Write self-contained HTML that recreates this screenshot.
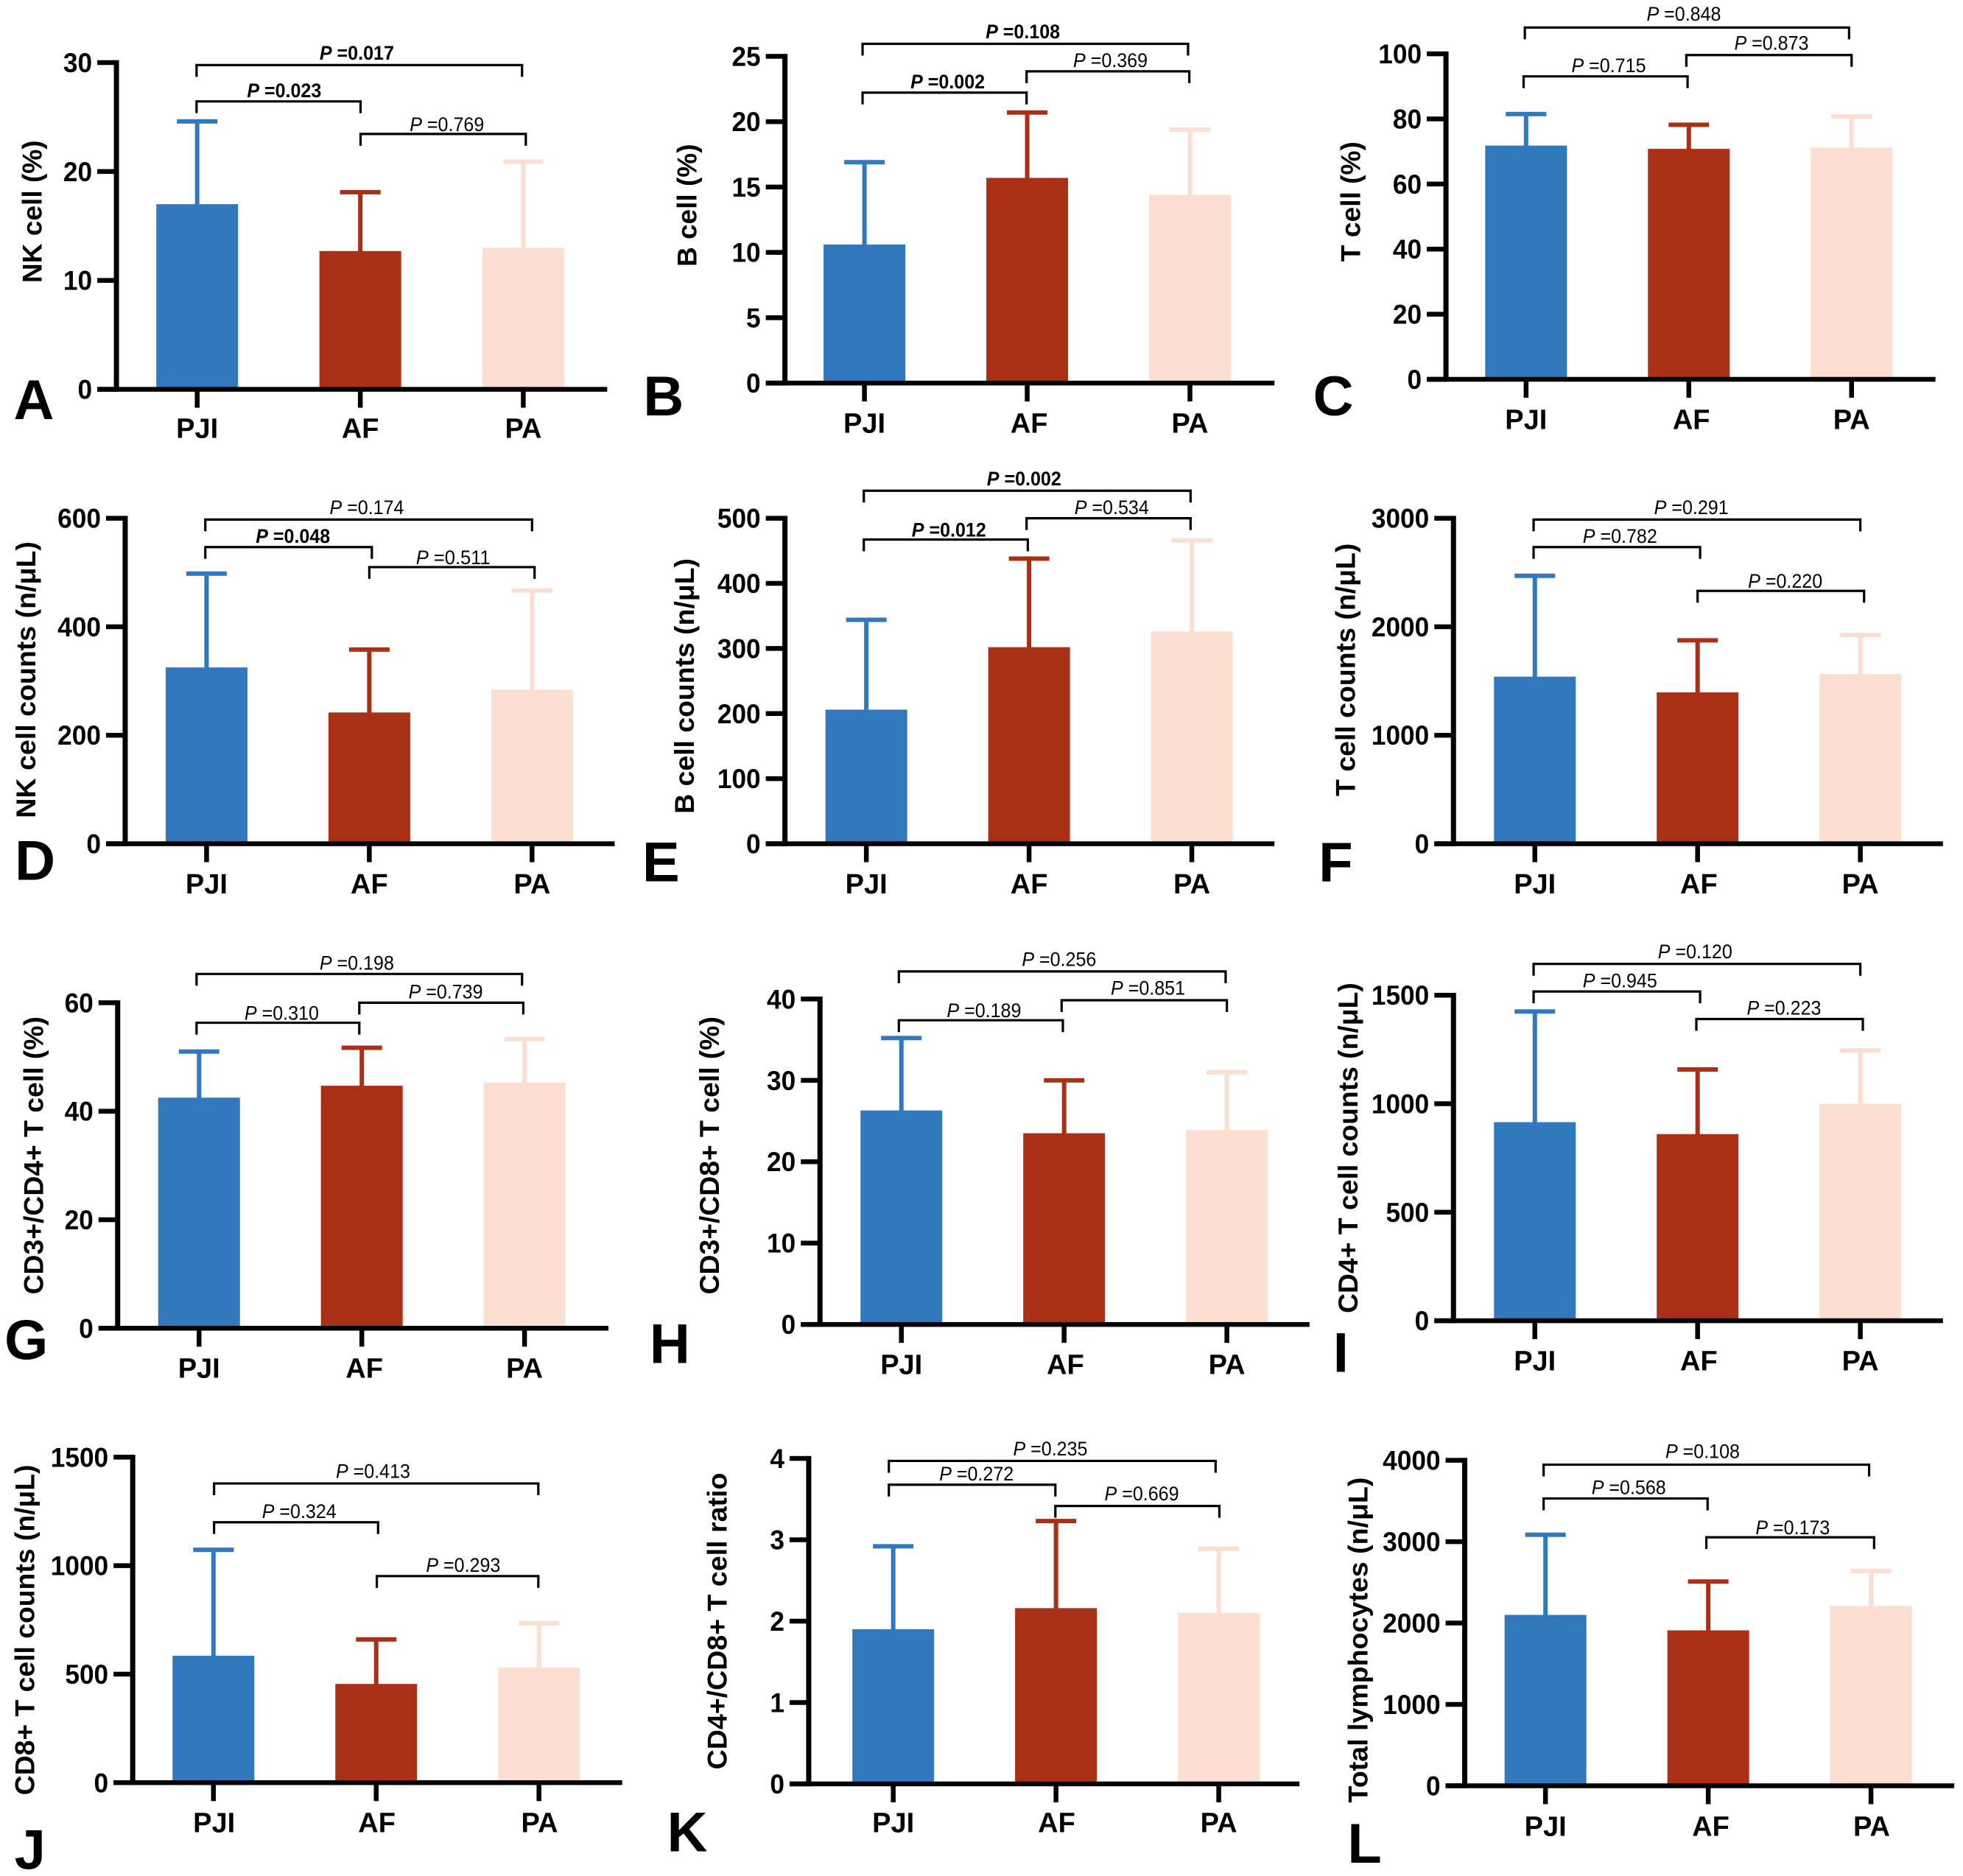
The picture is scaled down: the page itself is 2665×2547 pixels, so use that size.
<!DOCTYPE html>
<html lang="en">
<head>
<meta charset="utf-8">
<title>Lymphocyte subsets by group</title>
<style>
html,body{margin:0;padding:0;background:#fff;}
svg{display:block;}
text{font-family:"Liberation Sans",sans-serif;fill:#000;}
</style>
</head>
<body>
<svg id="chart" xmlns="http://www.w3.org/2000/svg" width="2665" height="2547" viewBox="0 0 2665 2547"></svg>
<script>
const categories = ['PJI', 'AF', 'PA'];

const nkPctMeans = [17, 12.7, 13];
const nkPctUpper = [24.6, 18.1, 20.9];
const nkPctTicks = [0, 10, 20, 30];
const nkPctP = ['0.023', '0.017', '0.769'];

const bPctMeans = [10.6, 15.7, 14.4];
const bPctUpper = [16.9, 20.7, 19.4];
const bPctTicks = [0, 5, 10, 15, 20, 25];
const bPctP = ['0.002', '0.108', '0.369'];

const tPctMeans = [71.8, 70.8, 71.2];
const tPctUpper = [81.5, 78.2, 80.8];
const tPctTicks = [0, 20, 40, 60, 80, 100];
const tPctP = ['0.715', '0.848', '0.873'];

const nkCountMeans = [325, 242, 284];
const nkCountUpper = [498, 358, 467];
const nkCountTicks = [0, 200, 400, 600];
const nkCountP = ['0.048', '0.174', '0.511'];

const bCountMeans = [206, 302, 326];
const bCountUpper = [344, 438, 466];
const bCountTicks = [0, 100, 200, 300, 400, 500];
const bCountP = ['0.012', '0.002', '0.534'];

const tCountMeans = [1540, 1395, 1565];
const tCountUpper = [2470, 1875, 1925];
const tCountTicks = [0, 1000, 2000, 3000];
const tCountP = ['0.782', '0.291', '0.220'];

const cd4PctMeans = [42.5, 44.7, 45.3];
const cd4PctUpper = [51, 51.7, 53.3];
const cd4PctTicks = [0, 20, 40, 60];
const cd4PctP = ['0.310', '0.198', '0.739'];

const cd8PctMeans = [26.3, 23.5, 23.9];
const cd8PctUpper = [35.2, 30, 31];
const cd8PctTicks = [0, 10, 20, 30, 40];
const cd8PctP = ['0.189', '0.256', '0.851'];

const cd4CountMeans = [915, 860, 1000];
const cd4CountUpper = [1425, 1158, 1245];
const cd4CountTicks = [0, 500, 1000, 1500];
const cd4CountP = ['0.945', '0.120', '0.223'];

const cd8CountMeans = [585, 455, 530];
const cd8CountUpper = [1073, 660, 735];
const cd8CountTicks = [0, 500, 1000, 1500];
const cd8CountP = ['0.324', '0.413', '0.293'];

const ratioMeans = [1.9, 2.16, 2.1];
const ratioUpper = [2.92, 3.23, 2.89];
const ratioTicks = [0, 1, 2, 3, 4];
const ratioP = ['0.272', '0.235', '0.669'];

const totalMeans = [2100, 1910, 2210];
const totalUpper = [3085, 2510, 2640];
const totalTicks = [0, 1000, 2000, 3000, 4000];
const totalP = ['0.568', '0.108', '0.173'];

/* Layout is in units of a 1568-wide sheet and is scaled to the page below. */
const S = 2665 / 1568;
const colors = ['#3178bd', '#a93015', '#fcdfd0'];
const NS = 'http://www.w3.org/2000/svg';
const svg = document.getElementById('chart');

const panels = [
  {id:'a', letter:'A', lx:27, ly:319, title:'NK cell (%)', tx:26, ty:169, tl:114, means:nkPctMeans, upper:nkPctUpper, ticks:nkPctTicks, p:nkPctP, bold:[1,1,0],
   ax:93, y0:311, top:50, end:485, cx:[157.5,287.8,418], catDx:[0,0,0], catY:342,
   br:[[157,288,81,227,72],[157,417,52,285,42],[288,420,107,357,99]]},
  {id:'b', letter:'B', lx:530, ly:316, title:'B cell (%)', tx:549, ty:164, tl:98, means:bPctMeans, upper:bPctUpper, ticks:bPctTicks, p:bPctP, bold:[1,1,0],
   ax:627, y0:306, top:45, end:1018, cx:[690.5,820.5,950.5], catDx:[0,1.5,0], catY:338,
   br:[[689,820,74,757,65],[689,949,35,817,25],[820,950,57,887,48]]},
  {id:'c', letter:'C', lx:1065, ly:316, title:'T cell (%)', tx:1079, ty:161, tl:96, means:tPctMeans, upper:tPctUpper, ticks:tPctTicks, p:tPctP, bold:[0,0,0],
   ax:1155, y0:303, top:43, end:1546, cx:[1219,1349,1479], catDx:[0,2,0], catY:335,
   br:[[1217,1348,61,1285,52],[1218,1477,22,1345,11],[1347,1479,44,1415,34]]},
  {id:'d', letter:'D', lx:28, ly:687, title:'NK cell counts (n/μL)', tx:21, ty:543, tl:221, means:nkCountMeans, upper:nkCountUpper, ticks:nkCountTicks, p:nkCountP, bold:[1,0,0],
   ax:100, y0:674, top:414, end:491, cx:[165,295,425], catDx:[0,0,0], catY:706,
   br:[[164,297,437,234,428],[164,425,415,293,405],[295,427,453,362,445]]},
  {id:'e', letter:'E', lx:528, ly:688, title:'B cell counts (n/μL)', tx:547, ty:548, tl:204, means:bCountMeans, upper:bCountUpper, ticks:bCountTicks, p:bCountP, bold:[1,1,0],
   ax:627, y0:674, top:414, end:1018, cx:[692,822,952], catDx:[0,0,0], catY:706,
   br:[[690,821,431,758,423],[690,951,392,818,382],[820,951,414,888,405]]},
  {id:'f', letter:'F', lx:1067, ly:688, title:'T cell counts (n/μL)', tx:1075, ty:535, tl:202, means:tCountMeans, upper:tCountUpper, ticks:tCountTicks, p:tCountP, bold:[0,0,0],
   ax:1161, y0:674, top:414, end:1552, cx:[1226,1356,1486], catDx:[0,1,0], catY:706,
   br:[[1225,1358,437,1294,428],[1225,1486,415,1351,405],[1356,1489,472,1426,464]]},
  {id:'g', letter:'G', lx:21, ly:1070, title:'CD3+/CD4+ T cell (%)', tx:27, ty:923, tl:222, means:cd4PctMeans, upper:cd4PctUpper, ticks:cd4PctTicks, p:cd4PctP, bold:[0,0,0],
   ax:94, y0:1061, top:801, end:486, cx:[159,289,419], catDx:[0,2,0], catY:1093,
   br:[[157,287,817,225,809],[157,417,778,285,769],[287,418,801,356,792]]},
  {id:'h', letter:'H', lx:535, ly:1073, title:'CD3+/CD8+ T cell (%)', tx:567, ty:923, tl:222, means:cd8PctMeans, upper:cd8PctUpper, ticks:cd8PctTicks, p:cd8PctP, bold:[0,0,0],
   ax:655, y0:1058, top:798, end:1046, cx:[720,850,980], catDx:[0,1,0], catY:1090,
   br:[[718,849,815,786,807],[718,979,776,846,766],[848,980,799,917,789]]},
  {id:'i', letter:'I', lx:1071, ly:1080, title:'CD4+ T cell counts (n/μL)', tx:1077, ty:917, tl:264, means:cd4CountMeans, upper:cd4CountUpper, ticks:cd4CountTicks, p:cd4CountP, bold:[0,0,0],
   ax:1161, y0:1055, top:795, end:1552, cx:[1226,1356,1486], catDx:[0,1,0], catY:1087,
   br:[[1225,1358,792,1294,783],[1225,1486,770,1354,760],[1355,1488,814,1425,805]]},
  {id:'j', letter:'J', lx:24, ly:1477, title:'CD8+ T cell counts (n/μL)', tx:20, ty:1302, tl:264, means:cd8CountMeans, upper:cd8CountUpper, ticks:cd8CountTicks, p:cd8CountP, bold:[0,0,0],
   ax:106, y0:1424, top:1164, end:497, cx:[170.5,300.5,430.5], catDx:[0.5,0.5,0.5], catY:1456,
   br:[[171,302,1216,239,1207],[171,430,1185,298,1175],[301,430,1259,370,1250]]},
  {id:'k', letter:'K', lx:549, ly:1463, title:'CD4+/CD8+ T cell ratio', tx:573, ty:1295, tl:237, means:ratioMeans, upper:ratioUpper, ticks:ratioTicks, p:ratioP, bold:[0,0,0],
   ax:646, y0:1425, top:1165, end:1038, cx:[713.5,843.5,973.5], catDx:[0,0.5,0], catY:1456,
   br:[[710,843,1186,780,1177],[710,971,1167,839,1157],[843,974,1203,912,1193]]},
  {id:'l', letter:'L', lx:1090, ly:1472, title:'Total lymphocytes (n/μL)', tx:1085, ty:1310, tl:260, means:totalMeans, upper:totalUpper, ticks:totalTicks, p:totalP, bold:[0,0,0],
   ax:1170, y0:1426.5, top:1166.5, end:1561, cx:[1234.5,1364.5,1494.5], catDx:[0,2,0.5], catY:1459,
   br:[[1233,1364,1197,1301,1188],[1233,1493,1170,1360,1159],[1363,1497,1228,1432,1220]]}
];

function make(tag, attrs, parent) {
  const node = document.createElementNS(NS, tag);
  for (const k in attrs) node.setAttribute(k, attrs[k]);
  parent.appendChild(node);
  return node;
}

function drawPanel(p) {
  const g = make('g', {}, svg);
  
  

  const maxV = p.ticks[p.ticks.length - 1];
  const yScale = v => S * (p.y0 - (v / maxV) * (p.y0 - p.top));
  const xScale = i => S * p.cx[i];
  const axisX = S * p.ax;
  const zeroY = yScale(0);

  // bars and error bars
  categories.forEach((cat, i) => {
    const c = colors[i];
    const x = xScale(i);
    const stem = make('rect', {x: x - 3, y: yScale(p.upper[i]), width: 6, height: yScale(p.means[i]) - yScale(p.upper[i]) + 1, fill: c}, g);
    
    
    const cap = make('rect', {x: x - 27.5, y: yScale(p.upper[i]) - 3, width: 55, height: 6, fill: c}, g);
    
    
    const bar = make('rect', {x: x - 55.5, y: yScale(p.means[i]), width: 111, height: zeroY - yScale(p.means[i]), fill: c}, g);
    
    
  });

  // y axis
  const yAxis = make('rect', {x: axisX - 3.5, y: yScale(maxV) - 3.25, width: 7, height: zeroY - yScale(maxV) + 6.5, fill: '#000'}, g);
  
  

  // x axis
  const xAxis = make('rect', {x: axisX - 26, y: zeroY - 3.25, width: S * p.end - axisX + 26, height: 6.5, fill: '#000'}, g);
  
  

  // y ticks
  p.ticks.forEach(t => {
    const y = yScale(t);
    const tick = make('rect', {x: axisX - 26, y: y - 3.25, width: 26, height: 6.5, fill: '#000'}, g);
    
    
    const label = make('text', {x: axisX - 33, y: y + 13, 'text-anchor': 'end', 'font-size': 37, 'font-weight': 'bold', textLength: String(t).length * 19.6, lengthAdjust: 'spacingAndGlyphs'}, g);
    label.textContent = t;
    
    
  });

  // x ticks and category labels
  categories.forEach((cat, i) => {
    const x = xScale(i);
    const tick = make('rect', {x: x - 3.25, y: zeroY, width: 6.5, height: 25, fill: '#000'}, g);
    
    
    const label = make('text', {x: x + S * p.catDx[i], y: S * p.catY + 13, 'text-anchor': 'middle', 'font-size': 38, 'font-weight': 'bold'}, g);
    label.textContent = cat;
    
    
  });

  // y title
  const tx = S * p.tx, ty = S * p.ty;
  const title = make('text', {
    x: tx, y: ty, transform: 'rotate(-90 ' + tx + ' ' + ty + ')', 'text-anchor': 'middle', 'dominant-baseline': 'central',
    'font-size': 37, 'font-weight': 'bold', textLength: S * p.tl, lengthAdjust: 'spacingAndGlyphs'
  }, g);
  title.textContent = p.title;
  
  

  // significance brackets
  p.br.forEach((b, i) => {
    const x1 = S * b[0], x2 = S * b[1], y = S * b[2], drop = 16;
    const bracket = make('path', {d: 'M' + x1 + ' ' + (y + drop) + 'V' + y + 'H' + x2 + 'V' + (y + drop), fill: 'none', stroke: '#000', 'stroke-width': 3.2}, g);
    
    
    const label = make('text', {x: S * b[3], y: S * b[4] + 9.5, 'text-anchor': 'middle', 'font-size': 27, 'font-weight': p.bold[i] ? 'bold' : 'normal', textLength: 101, lengthAdjust: 'spacingAndGlyphs'}, g);
    const ital = make('tspan', {'font-style': 'italic'}, label);
    ital.textContent = 'P';
    const rest = make('tspan', {}, label);
    rest.textContent = ' =' + p.p[i];
    
    
  });

  // panel letter
  const letter = make('text', {x: S * p.lx, y: S * p.ly + 27, 'text-anchor': 'middle', 'font-size': 76, 'font-weight': 'bold'}, g);
  letter.textContent = p.letter;
  
  
}

panels.forEach(drawPanel);
</script>
</body>
</html>
